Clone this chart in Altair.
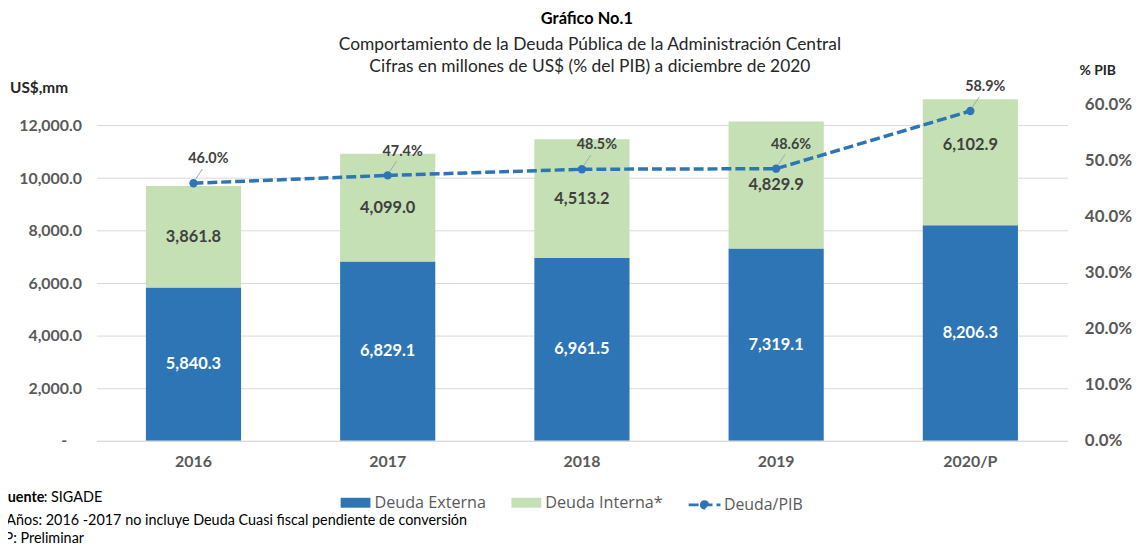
import altair as alt
import pandas as pd

# ---------------- data ----------------
years = ["2016", "2017", "2018", "2019", "2020/P"]
externa = [5840.3, 6829.1, 6961.5, 7319.1, 8206.3]
interna = [3861.8, 4099.0, 4513.2, 4829.9, 6102.9]
deuda_pib = [46.0, 47.4, 48.5, 48.6, 58.9]
left_ticks = [0, 2000, 4000, 6000, 8000, 10000, 12000]
right_ticks = [0.0, 0.1, 0.2, 0.3, 0.4, 0.5, 0.6]
series = ["Deuda Externa", "Deuda Interna*"]
line_name = "Deuda/PIB"

title_txt = "Gráfico No.1"
sub1_txt = "Comportamiento de la Deuda Pública de la Administración Central"
sub2_txt = "Cifras en millones de US$ (% del PIB) a diciembre de 2020"
note1_bold = "Fuente"
note1_rest = ": SIGADE"
note2 = "*Años: 2016 -2017 no incluye Deuda Cuasi fiscal pendiente de conversión"
note3 = "/P: Preliminar"
left_title = "US$,mm"
right_title = "% PIB"

# ---------------- tables ----------------
rows = []
for yr, e, i in zip(years, externa, interna):
    rows.append({"year": yr, "serie": series[0], "value": e, "y0": 0.0, "y1": e, "mid": e / 2})
    rows.append({"year": yr, "serie": series[1], "value": i, "y0": e, "y1": e + i, "mid": e + i / 2})
bar_df = pd.DataFrame(rows)
line_df = pd.DataFrame({"year": years, "pct": [p / 100 for p in deuda_pib], "serie2": [line_name] * len(years)})

BLUE = "#2E75B6"
GREEN = "#C5E0B4"
AXC = "#595959"
DARK = "#404040"
FONT = "Lato"

x_enc = alt.X(
    "year:N", sort=years, title=None,
    scale=alt.Scale(paddingInner=0.51, paddingOuter=0.255),
    axis=alt.Axis(labelAngle=0, ticks=False, domainColor="#d9d9d9", domainWidth=1,
                  labelFont=FONT, labelFontSize=16, labelFontWeight="bold", labelColor=AXC,
                  labelPadding=13, grid=False),
)

left_scale = alt.Scale(domain=[0, 13000], nice=False, zero=True)
right_scale = alt.Scale(domain=[0, 0.61], nice=False, zero=True)

left_axis = alt.Axis(values=left_ticks, grid=True, gridColor="#d9d9d9", gridWidth=1,
                     domain=False, ticks=False,
                     labelPadding={"condition": {"test": "datum.value == 0", "value": 30}, "value": 15},
                     labelFont=FONT, labelFontSize=16, labelFontWeight="bold", labelColor=AXC,
                     labelExpr="datum.value == 0 ? '-' : format(datum.value, ',.1f')")
right_axis = alt.Axis(orient="right", values=right_ticks, format=".1%", grid=False,
                      domain=False, ticks=False, labelPadding=17,
                      labelFont=FONT, labelFontSize=17, labelFontWeight="bold", labelColor=AXC)

bars = alt.Chart(bar_df).mark_bar(clip=True).encode(
    x=x_enc,
    y=alt.Y("y0:Q", scale=left_scale, title=None, axis=left_axis),
    y2="y1:Q",
    color=alt.Color("serie:N", scale=alt.Scale(domain=series, range=[BLUE, GREEN]),
                    legend=alt.Legend(title=None, orient="none", legendX=246, legendY=391,
                                      direction="horizontal",
                                      symbolType="M-1,-0.333H1V0.333H-1Z",
                                      symbolSize=900, symbolStrokeWidth=0, symbolOpacity=1,
                                      labelFont="Open Sans", labelFontSize=16.3, labelColor=AXC,
                                      labelOffset=4, columnPadding=25, padding=0)),
)

bar_labels = alt.Chart(bar_df).mark_text(font=FONT, fontSize=16.5, fontWeight="bold").encode(
    x=x_enc,
    y=alt.Y("mid:Q", scale=left_scale, title=None, axis=left_axis),
    text=alt.Text("value:Q", format=",.1f"),
    color=alt.condition(alt.datum.serie == series[0], alt.value("white"), alt.value(DARK)),
)

left = alt.layer(bars, bar_labels)

line = alt.Chart(line_df).mark_line(color=BLUE, strokeWidth=3.5).encode(
    x=x_enc,
    y=alt.Y("pct:Q", scale=right_scale, title=None, axis=right_axis),
    strokeDash=alt.StrokeDash("serie2:N", scale=alt.Scale(domain=[line_name], range=[[10, 4]]),
                              legend=alt.Legend(title=None, orient="none", legendX=595, legendY=391,
                                                symbolType="M-1,0H1M-0.2,0A0.2,0.2,0,1,1,0.2,0A0.2,0.2,0,1,1,-0.2,0Z",
                                                symbolSize=1024, symbolStrokeColor=BLUE, symbolFillColor=BLUE,
                                                symbolStrokeWidth=3, symbolOpacity=1,
                                                labelFont="Open Sans", labelFontSize=16, labelColor=AXC,
                                                labelOffset=2, padding=0)),
)

points = alt.Chart(line_df).mark_point(filled=True, size=70, color=BLUE, opacity=1).encode(
    x=x_enc, y=alt.Y("pct:Q", scale=right_scale, title=None, axis=right_axis),
)

leaders = alt.Chart(line_df).mark_point(shape="M0.17,-0.33L0.75,-1.2", filled=False, size=576,
                                        color="#a6a6a6", strokeWidth=1, opacity=1).encode(
    x=x_enc, y=alt.Y("pct:Q", scale=right_scale, title=None, axis=right_axis),
)

pct_labels = alt.Chart(line_df).mark_text(font=FONT, fontSize=14.5, fontWeight="bold", color=DARK,
                                          dx=15, dy=-24).encode(
    x=x_enc, y=alt.Y("pct:Q", scale=right_scale, title=None, axis=right_axis),
    text=alt.Text("pct:Q", format=".1%"),
)

right = alt.layer(line, points, leaders, pct_labels)


def txt(s, x, y, size, weight="normal", color="black", align="left", font=FONT):
    return alt.Chart(pd.DataFrame({"t": [s]})).mark_text(
        font=font, fontSize=size, fontWeight=weight, color=color, align=align, baseline="middle"
    ).encode(x=alt.value(x), y=alt.value(y), text="t:N")


deco = [
    txt(title_txt, 494, -81, 16.5, "bold", "black", "center"),
    txt(sub1_txt, 497, -55, 17.5, "normal", "#262626", "center"),
    txt(sub2_txt, 497, -32, 17.5, "normal", "#262626", "center"),
    txt(left_title, -87, -11, 15.5, "bold", "#262626"),
    txt(right_title, 990, -28, 14, "bold", "#262626"),
    txt(note1_bold, -97, 402, 14.5, "bold"),
    txt(note1_rest, -53, 402, 14.5),
    txt(note2, -96, 425, 14.5),
    txt(note3, -99, 443, 14.5),
]

chart = alt.layer(left, right, *deco).resolve_scale(y="independent").properties(
    width=978, height=344,
    autosize=alt.AutoSizeParams(type="none"),
    padding={"left": 89, "top": 90, "right": 68, "bottom": 104},
).configure_view(stroke=None)

chart.save("out.html", embed_options={"renderer": "svg", "actions": False})
